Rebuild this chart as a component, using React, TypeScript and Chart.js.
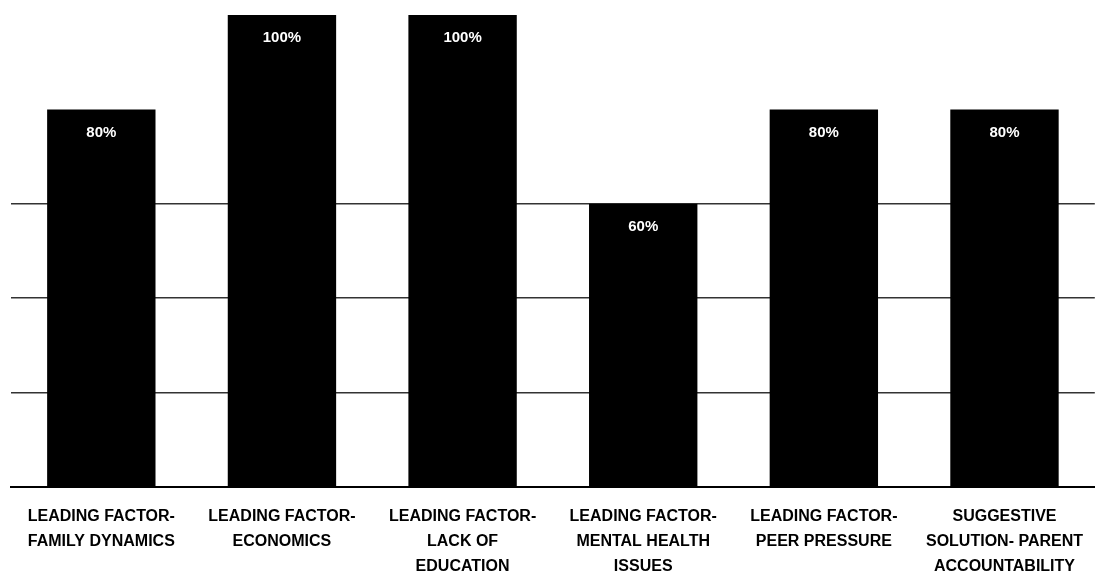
import React, { useEffect, useRef } from "react";
import { Chart, registerables } from "chart.js";

Chart.register(...registerables);

const categories: string[][] = [
  ["LEADING FACTOR-", "FAMILY DYNAMICS"],
  ["LEADING FACTOR-", "ECONOMICS"],
  ["LEADING FACTOR-", "LACK OF", "EDUCATION"],
  ["LEADING FACTOR-", "MENTAL HEALTH", "ISSUES"],
  ["LEADING FACTOR-", "PEER PRESSURE"],
  ["SUGGESTIVE", "SOLUTION- PARENT", "ACCOUNTABILITY"],
];
const values: number[] = [80, 100, 100, 60, 80, 80];
const gridValues: number[] = [20, 40, 60];

const FONT = "'Liberation Sans', Arial, sans-serif";

const valueLabels = {
  id: "valueLabels",
  afterDatasetsDraw(chart: any) {
    const ctx = chart.ctx;
    const meta = chart.getDatasetMeta(0);
    ctx.save();
    ctx.fillStyle = "#ffffff";
    ctx.font = `bold 15px ${FONT}`;
    ctx.textAlign = "center";
    ctx.textBaseline = "middle";
    meta.data.forEach((bar: any, i: number) => {
      ctx.fillText(`${values[i]}%`, bar.x, bar.y + 23);
    });
    ctx.restore();
  },
};

export default function App() {
  const ref = useRef<HTMLCanvasElement>(null);
  useEffect(() => {
    document.body.style.margin = "0";
    const chart = new Chart(ref.current!, {
      type: "bar",
      data: {
        labels: categories,
        datasets: [
          {
            data: values,
            backgroundColor: "#000000",
            borderWidth: 0,
            categoryPercentage: 0.6,
            barPercentage: 1,
          },
        ],
      },
      options: {
        animation: false,
        responsive: false,
        maintainAspectRatio: false,
        layout: { padding: { left: 11, right: 0, top: 15, bottom: 0 } },
        plugins: { legend: { display: false }, tooltip: { enabled: false } },
        scales: {
          x: {
            grid: { display: false, drawTicks: false },
            border: { display: true, color: "#000000", width: 2 },
            afterFit: (scale: any) => {
              scale.height = 87;
            },
            ticks: {
              color: "#000000",
              font: { family: FONT, size: 16, weight: "bold", lineHeight: 1.56 },
              maxRotation: 0,
              autoSkip: false,
              padding: 17,
            },
          },
          y: {
            min: 0,
            max: 100,
            display: true,
            border: { display: false },
            ticks: { display: false, stepSize: 20 },
            grid: {
              drawTicks: false,
              lineWidth: 1.5,
              color: (c: any) =>
                gridValues.includes(c.tick?.value) ? "#333333" : "rgba(0,0,0,0)",
            },
          },
        },
      },
      plugins: [valueLabels],
    });
    return () => chart.destroy();
  }, []);
  return (
    <div style={{ width: 1100, height: 574 }}>
      <canvas ref={ref} width={1100} height={574} style={{ display: "block" }} />
    </div>
  );
}
